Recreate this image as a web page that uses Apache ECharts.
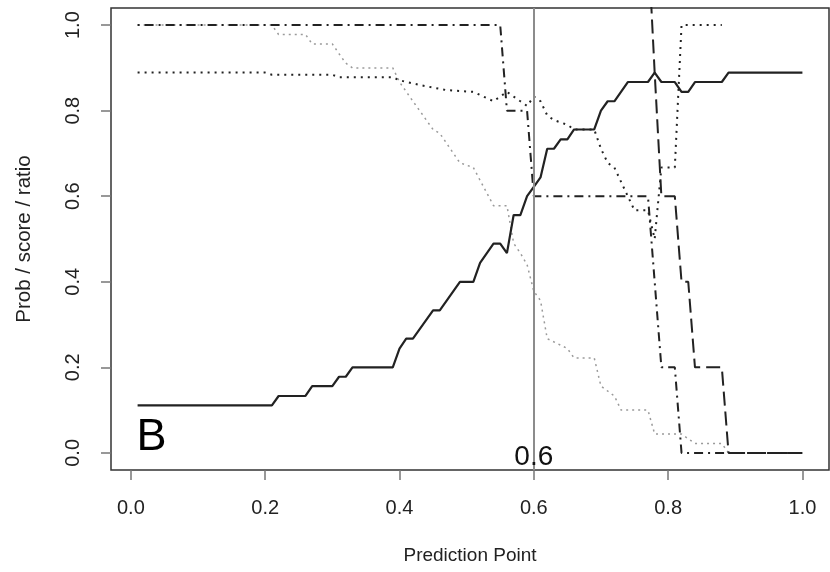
<!DOCTYPE html>
<html>
<head>
<meta charset="UTF-8">
<title>Prediction Point</title>
<script src="https://cdn.jsdelivr.net/npm/echarts@6/dist/echarts.min.js"></script>
<style>
  html, body { margin: 0; padding: 0; background: #fff; }
  #main { width: 830px; height: 572px; }
</style>
</head>
<body>
<div id="main"></div>
<script type="text/javascript">
// tick labels
var tickValues = [0, 0.2, 0.4, 0.6, 0.8, 1.0];

// solid line
var solidX = [0.01, 0.21, 0.22, 0.26, 0.27, 0.30, 0.31, 0.32, 0.33, 0.39, 0.40, 0.41, 0.42, 0.45, 0.46, 0.49, 0.51, 0.52, 0.54, 0.55, 0.56, 0.57, 0.58, 0.59, 0.60, 0.61, 0.62, 0.63, 0.64, 0.65, 0.66, 0.69, 0.70, 0.71, 0.72, 0.74, 0.77, 0.78, 0.79, 0.81, 0.82, 0.83, 0.84, 0.88, 0.89, 1.00];
var solidY = [0.111, 0.111, 0.133, 0.133, 0.156, 0.156, 0.178, 0.178, 0.200, 0.200, 0.244, 0.267, 0.267, 0.333, 0.333, 0.400, 0.400, 0.444, 0.489, 0.489, 0.467, 0.556, 0.556, 0.600, 0.622, 0.644, 0.711, 0.711, 0.733, 0.733, 0.756, 0.756, 0.800, 0.822, 0.822, 0.867, 0.867, 0.889, 0.867, 0.867, 0.844, 0.844, 0.867, 0.867, 0.889, 0.889];

// dot-dash line
var dotdashX = [0.01, 0.55, 0.56, 0.59, 0.60, 0.77, 0.79, 0.81, 0.82, 1.00];
var dotdashY = [1.0, 1.0, 0.8, 0.8, 0.6, 0.6, 0.2, 0.2, 0.0, 0.0];

// long dash line
var dashX = [0.77, 0.78, 0.79, 0.81, 0.82, 0.83, 0.84, 0.88, 0.89, 1.00];
var dashY = [1.2, 0.889, 0.6, 0.6, 0.4, 0.4, 0.2, 0.2, 0.0, 0.0];

// dark dotted line
var dotX = [0.01, 0.20, 0.21, 0.30, 0.31, 0.39, 0.40, 0.43, 0.47, 0.51, 0.54, 0.55, 0.56, 0.58, 0.59, 0.60, 0.61, 0.62, 0.63, 0.65, 0.66, 0.69, 0.70, 0.71, 0.72, 0.74, 0.75, 0.77, 0.78, 0.79, 0.81, 0.82, 0.88];
var dotY = [0.889, 0.889, 0.884, 0.884, 0.878, 0.878, 0.871, 0.860, 0.848, 0.844, 0.822, 0.833, 0.844, 0.822, 0.811, 0.833, 0.822, 0.789, 0.778, 0.767, 0.756, 0.756, 0.711, 0.678, 0.667, 0.600, 0.567, 0.567, 0.500, 0.667, 0.667, 1.0, 1.0];

// light grey dotted line
var greyX = [0.01, 0.21, 0.22, 0.26, 0.27, 0.30, 0.31, 0.32, 0.33, 0.39, 0.40, 0.42, 0.45, 0.46, 0.49, 0.51, 0.54, 0.56, 0.57, 0.58, 0.59, 0.60, 0.61, 0.62, 0.65, 0.66, 0.69, 0.70, 0.72, 0.73, 0.77, 0.78, 0.82, 0.84, 0.88, 0.89];
var greyY = [1.0, 1.0, 0.978, 0.978, 0.956, 0.956, 0.933, 0.911, 0.900, 0.900, 0.867, 0.822, 0.756, 0.747, 0.678, 0.667, 0.578, 0.578, 0.490, 0.467, 0.440, 0.378, 0.356, 0.267, 0.244, 0.222, 0.222, 0.156, 0.133, 0.100, 0.100, 0.044, 0.044, 0.022, 0.022, 0.0];

var cutPoint = 0.6;

function zip(xs, ys) {
  var out = [];
  for (var i = 0; i < xs.length; i++) out.push([xs[i], ys[i]]);
  return out;
}

var font = 'Liberation Sans, Arial, Helvetica, sans-serif';
var ink = '#222';

var myChart = echarts.init(document.getElementById('main'));
var option = {
  animation: false,
  grid: {
    left: 111, right: 1, top: 8, bottom: 102,
    show: true, borderColor: '#333', borderWidth: 1.5, backgroundColor: '#fff'
  },
  xAxis: {
    type: 'value',
    min: -0.0296, max: 1.0396,
    name: 'Prediction Point',
    nameLocation: 'middle',
    nameGap: 76,
    nameTextStyle: { fontSize: 19, color: ink, fontFamily: font },
    axisLine: { show: false, onZero: false },
    splitLine: { show: false },
    axisTick: { show: true, length: 10, customValues: tickValues, lineStyle: { color: '#777', width: 1.5 } },
    axisLabel: {
      customValues: tickValues, margin: 28, fontSize: 20, color: ink, fontFamily: font,
      formatter: function (v) { return v.toFixed(1); }
    }
  },
  yAxis: {
    type: 'value',
    min: -0.04, max: 1.04,
    name: 'Prob / score / ratio',
    nameLocation: 'middle',
    nameGap: 76,
    nameTextStyle: { fontSize: 20.5, color: ink, fontFamily: font },
    axisLine: { show: false, onZero: false },
    splitLine: { show: false },
    axisTick: { show: true, length: 10, customValues: tickValues, lineStyle: { color: '#777', width: 1.5 } },
    axisLabel: {
      customValues: tickValues, margin: 28, rotate: 90, fontSize: 20, color: ink, fontFamily: font,
      formatter: function (v) { return v.toFixed(1); }
    }
  },
  series: [
    {
      name: 'grey', type: 'line', symbol: 'none', silent: true,
      data: zip(greyX, greyY),
      lineStyle: { color: '#9a9a9a', width: 1.5, type: [2, 4] },
      markLine: {
        silent: true, symbol: 'none', label: { show: false },
        lineStyle: { color: '#8c8c8c', width: 2, type: 'solid' },
        data: [{ xAxis: cutPoint }]
      }
    },
    {
      name: 'dotted', type: 'line', symbol: 'none', silent: true,
      data: zip(dotX, dotY),
      lineStyle: { color: ink, width: 2, type: [2, 5] }
    },
    {
      name: 'dotdash', type: 'line', symbol: 'none', silent: true,
      data: zip(dotdashX, dotdashY),
      lineStyle: { color: ink, width: 2, type: [2, 5, 9, 5] }
    },
    {
      name: 'dashed', type: 'line', symbol: 'none', silent: true,
      data: zip(dashX, dashY),
      lineStyle: { color: ink, width: 2, type: [14, 6] }
    },
    {
      name: 'solid', type: 'line', symbol: 'none', silent: true,
      data: zip(solidX, solidY),
      lineStyle: { color: ink, width: 2.2 }
    }
  ]
};
myChart.setOption(option);

// panel letter and cut point label, on a layer above the lines
var pB = myChart.convertToPixel({ gridIndex: 0 }, [0.01, 0]);
var pCut = myChart.convertToPixel({ gridIndex: 0 }, [cutPoint, 0]);
myChart.setOption({
  graphic: [
    {
      type: 'text', left: pB[0] - 1, top: pB[1] - 38, zlevel: 1,
      style: { text: 'B', fontSize: 45, fill: '#000', fontFamily: font }
    },
    {
      type: 'text', x: pCut[0], y: pCut[1] + 18, zlevel: 1,
      style: { text: '0.6', fontSize: 28, fill: '#111', fontFamily: font, align: 'center', verticalAlign: 'bottom' }
    }
  ]
});
</script>
</body>
</html>
